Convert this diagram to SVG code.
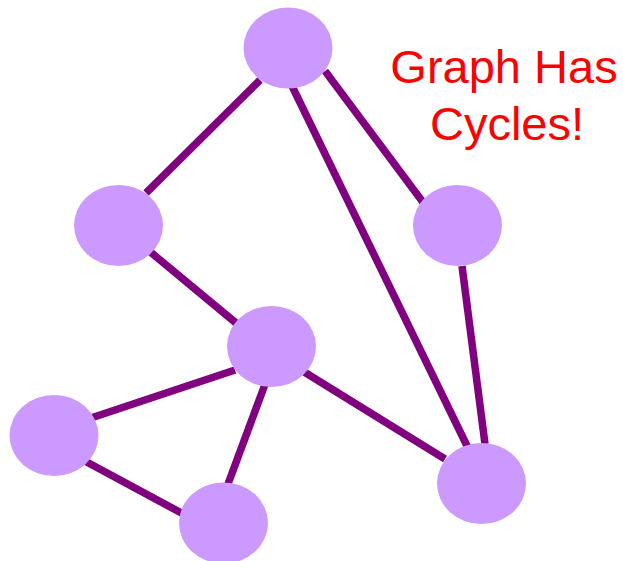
<svg xmlns="http://www.w3.org/2000/svg" width="623" height="561" viewBox="0 0 623 561">
<style>
.n{fill:#CC99FF;stroke:none}
.e line{stroke:#800080;stroke-width:7.5;stroke-linecap:butt}
.t{font-family:"Liberation Sans",Arial,sans-serif;font-size:47px;fill:#FF0000;text-anchor:middle}
</style>
<rect width="623" height="561" fill="#FFFFFF"/>
<g id="connectors" class="e">
<line x1="260" y1="80" x2="146" y2="193"/>
<line x1="292" y1="86" x2="469" y2="450"/>
<line x1="325" y1="71" x2="428" y2="209"/>
<line x1="462" y1="266" x2="485" y2="444"/>
<line x1="148" y1="250" x2="236" y2="323"/>
<line x1="235" y1="370" x2="91" y2="418"/>
<line x1="267" y1="379" x2="228" y2="484"/>
<line x1="301" y1="370" x2="445" y2="459"/>
<line x1="83" y1="460" x2="187" y2="516"/>
</g>
<g id="node1"><ellipse class="n" cx="288" cy="48" rx="44.5" ry="40.5"/></g>
<g id="node2"><ellipse class="n" cx="118.5" cy="225.5" rx="44.5" ry="40.5"/></g>
<g id="node3"><ellipse class="n" cx="457.5" cy="225.5" rx="44.5" ry="40.5"/></g>
<g id="node4"><ellipse class="n" cx="271.5" cy="346.5" rx="44.5" ry="40.5"/></g>
<g id="node5"><ellipse class="n" cx="54" cy="435.5" rx="44.5" ry="40.5"/></g>
<g id="node6"><ellipse class="n" cx="223.5" cy="523" rx="44.5" ry="40.5"/></g>
<g id="node7"><ellipse class="n" cx="481.5" cy="483.5" rx="44.5" ry="40.5"/></g>
<g id="label">
<text class="t" x="504" y="83">Graph Has</text>
<text class="t" x="507" y="140">Cycles!</text>
</g>
</svg>
